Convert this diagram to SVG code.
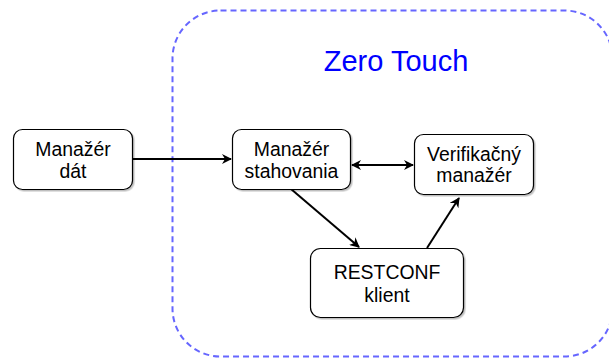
<svg xmlns="http://www.w3.org/2000/svg" width="609" height="358" viewBox="0 0 609 358">
  <style>
    .box { fill: #ffffff; stroke: #000000; stroke-width: 1.2; filter: url(#shadow); }
    .label { font-family: "Liberation Sans", Arial, sans-serif; font-size: 19.4px; fill: #000000; text-anchor: middle; }
    .edge { stroke: #000000; stroke-width: 2; fill: none; }
    .frame { fill: none; stroke: #6666ff; stroke-width: 2; stroke-dasharray: 6 4; }
    .title { font-family: "Liberation Sans", Arial, sans-serif; font-size: 29px; fill: #0000ff; text-anchor: middle; }
  </style>
  <defs>
    <filter id="shadow" x="-10%" y="-10%" width="130%" height="130%">
      <feDropShadow dx="1.5" dy="1.5" stdDeviation="0.6" flood-color="#000000" flood-opacity="0.25"/>
    </filter>
    <marker id="arrow" viewBox="0 0 10 10" refX="9" refY="5" markerWidth="11" markerHeight="10" orient="auto-start-reverse" markerUnits="userSpaceOnUse">
      <path d="M0,0 L10,5 L0,10 L3,5 Z" fill="#000000"/>
    </marker>
  </defs>
  <rect width="609" height="358" fill="#ffffff"/>

  <!-- Zero Touch container -->
  <g id="zero-touch">
    <rect class="frame" x="172.5" y="10.5" width="440" height="346" rx="48" ry="48"/>
    <text class="title" x="396" y="71">Zero Touch</text>
  </g>

  <!-- connectors -->
  <g id="connectors">
    <line class="edge" x1="133" y1="159" x2="231" y2="159" marker-end="url(#arrow)"/>
    <line class="edge" x1="352" y1="165" x2="413" y2="165" marker-start="url(#arrow)" marker-end="url(#arrow)"/>
    <line class="edge" x1="291" y1="189" x2="359" y2="247" marker-end="url(#arrow)"/>
    <line class="edge" x1="427" y1="248" x2="459" y2="198" marker-end="url(#arrow)"/>
  </g>

  <g id="manazer-dat">
    <rect class="box" x="13.5" y="129.5" width="119" height="60" rx="9" ry="9"/>
    <text class="label" x="73" y="156">Manažér</text>
    <text class="label" x="73" y="177.5">dát</text>
  </g>

  <g id="manazer-stahovania">
    <rect class="box" x="232.5" y="129.5" width="118" height="60" rx="9" ry="9"/>
    <text class="label" x="291.5" y="156">Manažér</text>
    <text class="label" x="291.5" y="177.5">stahovania</text>
  </g>

  <g id="verifikacny-manazer">
    <rect class="box" x="414.5" y="134.5" width="119" height="60" rx="9" ry="9"/>
    <text class="label" x="474" y="160.5">Verifikačný</text>
    <text class="label" x="474" y="182">manažér</text>
  </g>

  <g id="restconf-klient">
    <rect class="box" x="310.5" y="248.5" width="153" height="69" rx="10" ry="10"/>
    <text class="label" x="387" y="279">RESTCONF</text>
    <text class="label" x="387" y="301.5">klient</text>
  </g>
</svg>
